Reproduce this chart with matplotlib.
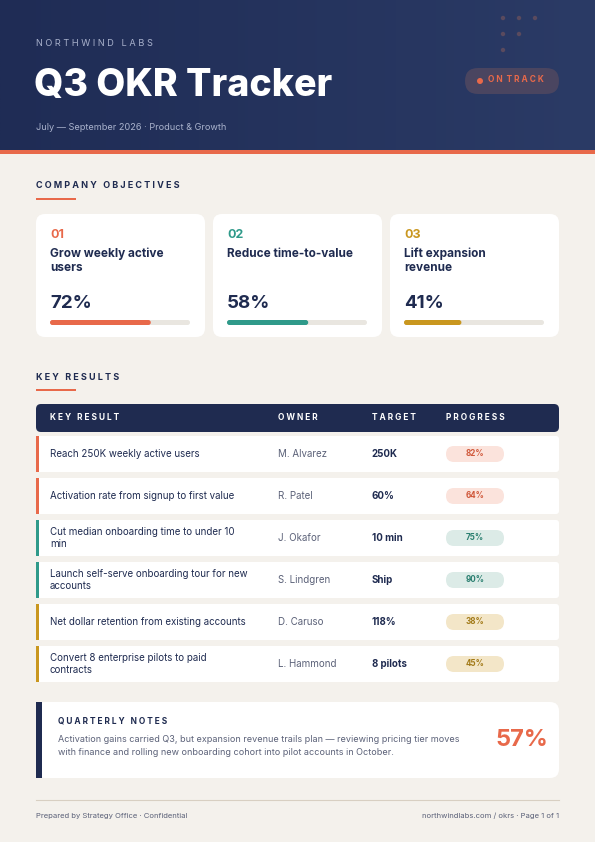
import matplotlib
matplotlib.use("Agg")
import matplotlib.pyplot as plt
from matplotlib.patches import FancyBboxPatch, Rectangle, Circle
import numpy as np

plt.rcParams['font.family'] = ['Inter', 'DejaVu Sans']

NAVY = '#1f2b50'; ORANGE = '#e8694a'; TEAL = '#2f9a8a'; GOLD = '#c9971f'
BG = '#f4f1ec'; GREY = '#5b6178'

obj_nums = ['01', '02', '03']
obj_titles = ['Grow weekly active\nusers', 'Reduce time-to-value', 'Lift expansion\nrevenue']
obj_pcts = [72, 58, 41]
obj_colors = [ORANGE, TEAL, GOLD]

kr_names = ['Reach 250K weekly active users', 'Activation rate from signup to first value',
            'Cut median onboarding time to under 10\nmin', 'Launch self-serve onboarding tour for new\naccounts',
            'Net dollar retention from existing accounts', 'Convert 8 enterprise pilots to paid\ncontracts']
kr_owners = ['M. Alvarez', 'R. Patel', 'J. Okafor', 'S. Lindgren', 'D. Caruso', 'L. Hammond']
kr_targets = ['250K', '60%', '10 min', 'Ship', '118%', '8 pilots']
kr_progress = [82, 64, 75, 90, 38, 45]
kr_accent = [ORANGE, ORANGE, TEAL, TEAL, GOLD, GOLD]
pill_bg = {ORANGE: '#fbe3dc', TEAL: '#dcebe7', GOLD: '#f3e6c8'}
pill_fg = {ORANGE: '#d0583b', TEAL: '#2a7f70', GOLD: '#a27a18'}
overall = 57

fig = plt.figure(figsize=(5.95, 8.42), dpi=100)
fig.patch.set_facecolor(BG)
ax = fig.add_axes([0, 0, 1, 1])
ax.set_xlim(0, 595); ax.set_ylim(842, 0); ax.axis('off')

def rbox(x, y, w, h, r, fc, z=1, ec='none'):
    p = FancyBboxPatch((x + r, y + r), w - 2 * r, h - 2 * r, boxstyle=f"round,pad={r}",
                       fc=fc, ec=ec, zorder=z, mutation_aspect=1)
    ax.add_patch(p)

# header gradient
grad = np.linspace(0, 1, 256)[None, :]
from matplotlib.colors import LinearSegmentedColormap
cm = LinearSegmentedColormap.from_list('g', ['#1f2c55', '#2b3b66'])
ax.imshow(grad, extent=(0, 595, 150, 0), cmap=cm, aspect='auto', zorder=0)
ax.set_xlim(0, 595); ax.set_ylim(842, 0)
ax.add_patch(Rectangle((0, 150), 595, 4, fc=ORANGE, zorder=1))
for (dx, dy) in [(503, 18), (519, 18), (535, 18), (503, 34), (519, 34), (503, 50)]:
    ax.add_patch(Circle((dx, dy), 2.2, fc='#5a4a5e', zorder=1))
ax.text(36, 43, 'N O R T H W I N D   L A B S', color='#a9b2cc', fontsize=6.6, va='center')
ax.text(34, 86, 'Q3 OKR Tracker', color='white', fontsize=27, fontweight='heavy', va='center')
ax.text(36, 128, 'July — September 2026 · Product & Growth', color='#a9b2cc', fontsize=6.6, va='center')
rbox(465, 68, 94, 26, 13, '#4a4560', z=2)
ax.add_patch(Circle((480, 81), 3, fc=ORANGE, zorder=3))
ax.text(488, 80, 'O N  T R A C K', color=ORANGE, fontsize=6, fontweight='bold', va='center', zorder=3)

def section(y, label):
    ax.text(36, y, label, color=NAVY, fontsize=6.5, fontweight='bold', va='center')
    ax.add_patch(Rectangle((36, y + 12), 40, 2, fc=ORANGE))

section(186, 'C O M P A N Y   O B J E C T I V E S')
for i in range(3):
    x = 36 + i * 177
    rbox(x, 214, 169, 123, 9, 'white')
    ax.text(x + 14, 235, obj_nums[i], color=obj_colors[i], fontsize=9, fontweight='bold', va='center')
    ax.text(x + 14, 248, obj_titles[i], color=NAVY, fontsize=8.5, fontweight='bold', va='top', linespacing=1.2)
    ax.text(x + 14, 303, f'{obj_pcts[i]}%', color=NAVY, fontsize=13.5, fontweight='bold', va='center')
    rbox(x + 14, 320, 140, 5, 2.5, '#e9e6e0', z=2)
    rbox(x + 14, 320, 140 * obj_pcts[i] / 100, 5, 2.5, obj_colors[i], z=3)

section(377, 'K E Y   R E S U L T S')
rbox(36, 404, 523, 28, 5, NAVY)
for xx, lab in [(50, 'K E Y   R E S U L T'), (278, 'O W N E R'), (372, 'T A R G E T'), (446, 'P R O G R E S S')]:
    ax.text(xx, 418, lab, color='white', fontsize=6, fontweight='bold', va='center')
for i in range(len(kr_names)):
    y = 436 + i * 42
    rbox(36, y, 523, 36, 3, 'white')
    ax.add_patch(Rectangle((36, y), 3, 36, fc=kr_accent[i], zorder=2))
    cy = y + 18
    ax.text(50, cy, kr_names[i], color=NAVY, fontsize=7, va='center', linespacing=1.15)
    ax.text(278, cy, kr_owners[i], color=GREY, fontsize=7, va='center')
    ax.text(372, cy, kr_targets[i], color=NAVY, fontsize=7, fontweight='bold', va='center')
    rbox(446, cy - 8, 58, 16, 8, pill_bg[kr_accent[i]], z=2)
    ax.text(475, cy, f'{kr_progress[i]}%', color=pill_fg[kr_accent[i]], fontsize=5.8,
            fontweight='bold', ha='center', va='center', zorder=3)

rbox(36, 702, 523, 76, 9, 'white')
ax.add_patch(Rectangle((36, 702), 6, 76, fc=NAVY, zorder=2))
ax.text(58, 721, 'Q U A R T E R L Y   N O T E S', color=NAVY, fontsize=6, fontweight='bold', va='center')
ax.text(58, 746, 'Activation gains carried Q3, but expansion revenue trails plan — reviewing pricing tier moves\n'
        'with finance and rolling new onboarding cohort into pilot accounts in October.',
        color=GREY, fontsize=6.5, va='center', linespacing=1.6)
ax.text(548, 740, f'{overall}%', color=ORANGE, fontsize=17, fontweight='bold', ha='right', va='center')

ax.plot([36, 559], [800, 800], color='#d8cfc2', lw=0.8)
ax.text(36, 816, 'Prepared by Strategy Office · Confidential', color=GREY, fontsize=5.5, va='center')
ax.text(559, 816, 'northwindlabs.com / okrs · Page 1 of 1', color=GREY, fontsize=5.5, va='center', ha='right')

fig.savefig('out.png', dpi=100, facecolor=BG)
